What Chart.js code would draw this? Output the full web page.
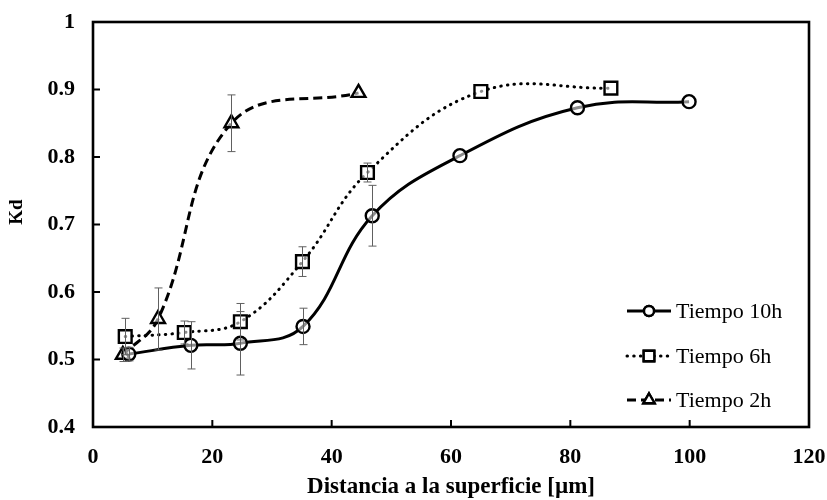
<!DOCTYPE html>
<html>
<head>
<meta charset="utf-8">
<title>Kd vs distancia</title>
<script src="https://cdn.jsdelivr.net/npm/chart.js@4/dist/chart.umd.min.js"></script>
<style>
  html, body { margin: 0; padding: 0; background: #fff; }
  #wrap { width: 827px; height: 500px; }
</style>
</head>
<body>
<div id="wrap"><canvas id="kd-chart" width="827" height="500"></canvas></div>
<script>
// Tiempo 10h
const dist10 = [6.0, 16.4, 24.7, 35.2, 46.8, 61.5, 81.2, 99.9];
const kd10   = [0.508, 0.521, 0.524, 0.549, 0.713, 0.802, 0.873, 0.882];
const err10  = [0.010, 0.035, 0.047, 0.027, 0.045, null, null, null];

// Tiempo 6h
const dist6 = [5.4, 15.3, 24.7, 35.1, 46.0, 65.0, 86.8];
const kd6   = [0.534, 0.540, 0.556, 0.645, 0.777, 0.897, 0.902];
const err6  = [0.027, 0.017, 0.027, 0.022, 0.014, null, null];

// Tiempo 2h
const dist2 = [5.0, 10.9, 23.2, 44.5];
const kd2   = [0.507, 0.560, 0.850, 0.895];
const err2  = [0.010, 0.046, 0.042, null];

const seriesLabels = ['Tiempo 10h', 'Tiempo 6h', 'Tiempo 2h'];
const xTicks = [0, 20, 40, 60, 80, 100, 120];
const yTicks = [0.4, 0.5, 0.6, 0.7, 0.8, 0.9, 1];

const SERIF = '"Liberation Serif", "Times New Roman", serif';
const pts = (xs, ys) => xs.map((x, i) => ({ x, y: ys[i] }));

const lineStyles = [
  { dash: [], cap: 'butt', width: 3, point: 'circle', radius: 6.5 },
  { dash: [0.5, 6.2], cap: 'round', width: 3, point: 'rect', radius: 9 },
  { dash: [9, 5], cap: 'butt', width: 3, point: 'triangle', radius: 8 },
];
const errors = [err10, err6, err2];

const datasets = [pts(dist10, kd10), pts(dist6, kd6), pts(dist2, kd2)].map((data, i) => ({
  label: seriesLabels[i],
  data,
  showLine: true,
  tension: 0.4,
  borderColor: '#000',
  borderWidth: lineStyles[i].width,
  borderDash: lineStyles[i].dash,
  borderCapStyle: lineStyles[i].cap,
  pointStyle: lineStyles[i].point,
  pointRadius: lineStyles[i].radius,
  pointBorderWidth: 2.4,
  pointBorderColor: '#000',
  pointBackgroundColor: 'rgba(255,255,255,0.55)',
}));

// box around the plot + inward tick marks + rotated y title
const frame = {
  id: 'frame',
  afterDraw(chart) {
    const { ctx, chartArea: a, scales } = chart;
    ctx.save();
    ctx.strokeStyle = '#000';
    ctx.lineWidth = 2;
    ctx.beginPath();
    xTicks.forEach(v => {
      const px = scales.x.getPixelForValue(v);
      ctx.moveTo(px, a.bottom); ctx.lineTo(px, a.bottom - 7);
    });
    yTicks.forEach(v => {
      const py = scales.y.getPixelForValue(v);
      ctx.moveTo(a.left, py); ctx.lineTo(a.left + 7, py);
    });
    ctx.stroke();
    ctx.lineWidth = 2.6;
    ctx.strokeRect(a.left, a.top, a.right - a.left, a.bottom - a.top);

    ctx.fillStyle = '#000';
    ctx.font = 'bold 19px ' + SERIF;
    ctx.translate(17, 212);
    ctx.rotate(-Math.PI / 2);
    ctx.textAlign = 'center';
    ctx.textBaseline = 'middle';
    ctx.fillText('Kd', 0, 0);
    ctx.restore();
  }
};

// vertical error bars with caps
const errorBars = {
  id: 'errorBars',
  afterDatasetsDraw(chart) {
    const { ctx, scales } = chart;
    ctx.save();
    ctx.strokeStyle = '#606060';
    ctx.lineWidth = 1;
    chart.data.datasets.forEach((ds, i) => {
      ds.data.forEach((p, j) => {
        const e = errors[i][j];
        if (e == null) return;
        const px = Math.round(scales.x.getPixelForValue(p.x)) + 0.5;
        const top = scales.y.getPixelForValue(p.y + e);
        const bot = scales.y.getPixelForValue(p.y - e);
        ctx.beginPath();
        ctx.moveTo(px, top); ctx.lineTo(px, bot);
        ctx.moveTo(px - 4, top); ctx.lineTo(px + 4, top);
        ctx.moveTo(px - 4, bot); ctx.lineTo(px + 4, bot);
        ctx.stroke();
      });
    });
    ctx.restore();
  }
};

// legend with line sample + marker, lower right inside the plot
const sampleLegend = {
  id: 'sampleLegend',
  afterDraw(chart) {
    const { ctx } = chart;
    const rows = [311, 356, 400];
    const x0 = 627, x1 = 671, xm = 649;
    ctx.save();
    chart.data.datasets.forEach((ds, i) => {
      const y = rows[i];
      const st = lineStyles[i];
      ctx.strokeStyle = '#000';
      ctx.lineWidth = st.width;
      ctx.lineCap = st.cap;
      ctx.setLineDash(st.dash);
      ctx.beginPath();
      ctx.moveTo(x0, y); ctx.lineTo(x1, y);
      ctx.stroke();
      ctx.setLineDash([]);
      ctx.lineWidth = 2.4;
      ctx.fillStyle = '#fff';
      Chart.helpers.drawPoint(ctx, { pointStyle: st.point, radius: st.radius - 1.5, borderWidth: 2.4 }, xm, y);
      ctx.fill();
      ctx.stroke();
      ctx.fillStyle = '#000';
      ctx.font = '22px ' + SERIF;
      ctx.textAlign = 'left';
      ctx.textBaseline = 'middle';
      ctx.fillText(ds.label, 676, y + 1);
    });
    ctx.restore();
  }
};

new Chart(document.getElementById('kd-chart'), {
  type: 'scatter',
  data: { datasets },
  plugins: [errorBars, frame, sampleLegend],
  options: {
    responsive: false,
    animation: false,
    layout: { padding: { top: 22, right: 18, left: 0, bottom: 0 } },
    plugins: { legend: { display: false }, tooltip: { enabled: false } },
    scales: {
      x: {
        type: 'linear',
        min: 0, max: 120,
        afterFit: s => { s.height = 73; s.paddingLeft = 0; s.paddingRight = 0; },
        afterBuildTicks: s => { s.ticks = xTicks.map(v => ({ value: v })); },
        grid: { display: false, drawTicks: false },
        border: { display: false },
        ticks: { padding: 17, color: '#000', font: { family: SERIF, size: 22, weight: 'bold' } },
        title: {
          display: true,
          text: 'Distancia a la superficie [µm]',
          color: '#000',
          font: { family: SERIF, size: 23, weight: 'bold', lineHeight: 1 },
          padding: { top: 0, bottom: 1 },
        },
      },
      y: {
        type: 'linear',
        min: 0.4, max: 1,
        afterFit: s => { s.width = 93; s.paddingTop = 0; s.paddingBottom = 0; },
        afterBuildTicks: s => { s.ticks = yTicks.map(v => ({ value: v })); },
        grid: { display: false, drawTicks: false },
        border: { display: false },
        ticks: {
          padding: 18, color: '#000',
          font: { family: SERIF, size: 22, weight: 'bold' },
          callback: v => String(+v.toFixed(1)),
        },
      },
    },
  },
});
</script>
</body>
</html>
